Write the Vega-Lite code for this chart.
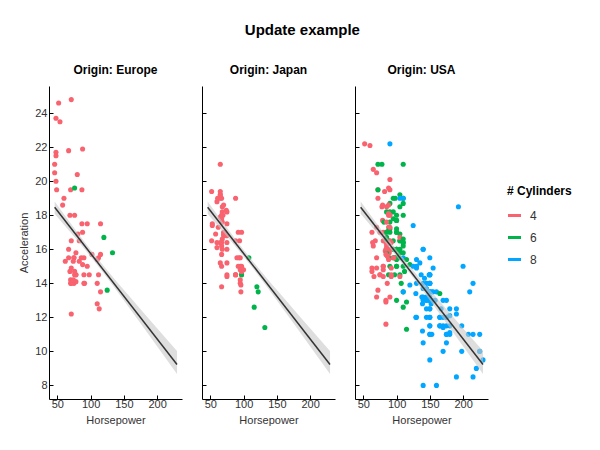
{
  "$schema": "https://vega.github.io/schema/vega-lite/v6.json",
  "padding": {"left": 18, "top": 23, "right": 5, "bottom": 5},
  "title": {"text": "Update example", "fontSize": 15, "fontWeight": "bold", "anchor": "middle", "color": "#000", "offset": 26, "dx": 7},
  "datasets": {
    "band": [
      {"hp": 46, "lo": 18.09, "hi": 18.81},
      {"hp": 60, "lo": 17.45, "hi": 18.06},
      {"hp": 80, "lo": 16.53, "hi": 17.00},
      {"hp": 100, "lo": 15.58, "hi": 15.98},
      {"hp": 120, "lo": 14.58, "hi": 15.00},
      {"hp": 140, "lo": 13.53, "hi": 14.07},
      {"hp": 160, "lo": 12.46, "hi": 13.16},
      {"hp": 180, "lo": 11.39, "hi": 12.26},
      {"hp": 200, "lo": 10.30, "hi": 11.36},
      {"hp": 230, "lo": 8.67, "hi": 10.02}
    ],
    "cars": [
      {"hp":130,"acc":12,"cyl":8,"origin":"USA"},
      {"hp":165,"acc":11.5,"cyl":8,"origin":"USA"},
      {"hp":150,"acc":11,"cyl":8,"origin":"USA"},
      {"hp":150,"acc":12,"cyl":8,"origin":"USA"},
      {"hp":140,"acc":10.5,"cyl":8,"origin":"USA"},
      {"hp":198,"acc":10,"cyl":8,"origin":"USA"},
      {"hp":220,"acc":9,"cyl":8,"origin":"USA"},
      {"hp":215,"acc":8.5,"cyl":8,"origin":"USA"},
      {"hp":225,"acc":10,"cyl":8,"origin":"USA"},
      {"hp":190,"acc":8.5,"cyl":8,"origin":"USA"},
      {"hp":170,"acc":10,"cyl":8,"origin":"USA"},
      {"hp":160,"acc":8,"cyl":8,"origin":"USA"},
      {"hp":150,"acc":9.5,"cyl":8,"origin":"USA"},
      {"hp":225,"acc":10,"cyl":8,"origin":"USA"},
      {"hp":95,"acc":15,"cyl":4,"origin":"Japan"},
      {"hp":95,"acc":15.5,"cyl":6,"origin":"USA"},
      {"hp":97,"acc":15.5,"cyl":6,"origin":"USA"},
      {"hp":85,"acc":16,"cyl":6,"origin":"USA"},
      {"hp":88,"acc":14.5,"cyl":4,"origin":"Japan"},
      {"hp":46,"acc":20.5,"cyl":4,"origin":"Europe"},
      {"hp":87,"acc":17.5,"cyl":4,"origin":"Europe"},
      {"hp":90,"acc":14.5,"cyl":4,"origin":"Europe"},
      {"hp":95,"acc":17.5,"cyl":4,"origin":"Europe"},
      {"hp":113,"acc":12.5,"cyl":4,"origin":"Europe"},
      {"hp":90,"acc":15,"cyl":6,"origin":"USA"},
      {"hp":215,"acc":14,"cyl":8,"origin":"USA"},
      {"hp":200,"acc":15,"cyl":8,"origin":"USA"},
      {"hp":210,"acc":13.5,"cyl":8,"origin":"USA"},
      {"hp":193,"acc":18.5,"cyl":8,"origin":"USA"},
      {"hp":88,"acc":14.5,"cyl":4,"origin":"Japan"},
      {"hp":90,"acc":15.5,"cyl":4,"origin":"USA"},
      {"hp":95,"acc":14,"cyl":4,"origin":"Japan"},
      {"hp":100,"acc":13,"cyl":6,"origin":"USA"},
      {"hp":105,"acc":15.5,"cyl":6,"origin":"USA"},
      {"hp":100,"acc":15.5,"cyl":6,"origin":"USA"},
      {"hp":88,"acc":15.5,"cyl":6,"origin":"USA"},
      {"hp":100,"acc":15.5,"cyl":6,"origin":"USA"},
      {"hp":165,"acc":12,"cyl":8,"origin":"USA"},
      {"hp":175,"acc":11.5,"cyl":8,"origin":"USA"},
      {"hp":153,"acc":13.5,"cyl":8,"origin":"USA"},
      {"hp":150,"acc":13,"cyl":8,"origin":"USA"},
      {"hp":180,"acc":11.5,"cyl":8,"origin":"USA"},
      {"hp":170,"acc":12,"cyl":8,"origin":"USA"},
      {"hp":175,"acc":12,"cyl":8,"origin":"USA"},
      {"hp":110,"acc":13.5,"cyl":6,"origin":"USA"},
      {"hp":72,"acc":19,"cyl":4,"origin":"USA"},
      {"hp":100,"acc":15,"cyl":6,"origin":"USA"},
      {"hp":88,"acc":14.5,"cyl":6,"origin":"USA"},
      {"hp":86,"acc":14,"cyl":4,"origin":"USA"},
      {"hp":90,"acc":14,"cyl":4,"origin":"Europe"},
      {"hp":70,"acc":19.5,"cyl":4,"origin":"Europe"},
      {"hp":76,"acc":14.5,"cyl":4,"origin":"Europe"},
      {"hp":65,"acc":19,"cyl":4,"origin":"Japan"},
      {"hp":69,"acc":18,"cyl":4,"origin":"Japan"},
      {"hp":60,"acc":19,"cyl":4,"origin":"Europe"},
      {"hp":70,"acc":20.5,"cyl":4,"origin":"USA"},
      {"hp":95,"acc":15.5,"cyl":4,"origin":"Japan"},
      {"hp":80,"acc":17,"cyl":4,"origin":"USA"},
      {"hp":54,"acc":23.5,"cyl":4,"origin":"Europe"},
      {"hp":90,"acc":19.5,"cyl":4,"origin":"USA"},
      {"hp":86,"acc":16.5,"cyl":4,"origin":"USA"},
      {"hp":165,"acc":12,"cyl":8,"origin":"USA"},
      {"hp":175,"acc":12,"cyl":8,"origin":"USA"},
      {"hp":150,"acc":13.5,"cyl":8,"origin":"USA"},
      {"hp":153,"acc":13,"cyl":8,"origin":"USA"},
      {"hp":150,"acc":11.5,"cyl":8,"origin":"USA"},
      {"hp":208,"acc":11,"cyl":8,"origin":"USA"},
      {"hp":155,"acc":13.5,"cyl":8,"origin":"USA"},
      {"hp":160,"acc":13.5,"cyl":8,"origin":"USA"},
      {"hp":190,"acc":12.5,"cyl":8,"origin":"USA"},
      {"hp":150,"acc":12.5,"cyl":8,"origin":"USA"},
      {"hp":130,"acc":14,"cyl":8,"origin":"USA"},
      {"hp":140,"acc":16,"cyl":8,"origin":"USA"},
      {"hp":150,"acc":14,"cyl":8,"origin":"USA"},
      {"hp":112,"acc":14.5,"cyl":4,"origin":"Europe"},
      {"hp":76,"acc":18,"cyl":4,"origin":"Europe"},
      {"hp":87,"acc":19.5,"cyl":4,"origin":"Europe"},
      {"hp":69,"acc":18,"cyl":4,"origin":"Europe"},
      {"hp":86,"acc":16,"cyl":4,"origin":"USA"},
      {"hp":92,"acc":17,"cyl":4,"origin":"Japan"},
      {"hp":97,"acc":14.5,"cyl":4,"origin":"Japan"},
      {"hp":80,"acc":15,"cyl":4,"origin":"USA"},
      {"hp":88,"acc":16.5,"cyl":4,"origin":"Japan"},
      {"hp":175,"acc":13,"cyl":8,"origin":"USA"},
      {"hp":150,"acc":11.5,"cyl":8,"origin":"USA"},
      {"hp":145,"acc":13,"cyl":8,"origin":"USA"},
      {"hp":137,"acc":14.5,"cyl":8,"origin":"USA"},
      {"hp":150,"acc":12.5,"cyl":8,"origin":"USA"},
      {"hp":198,"acc":11.5,"cyl":8,"origin":"USA"},
      {"hp":150,"acc":12,"cyl":8,"origin":"USA"},
      {"hp":158,"acc":13,"cyl":8,"origin":"USA"},
      {"hp":150,"acc":14.5,"cyl":8,"origin":"USA"},
      {"hp":215,"acc":11,"cyl":8,"origin":"USA"},
      {"hp":225,"acc":11,"cyl":8,"origin":"USA"},
      {"hp":175,"acc":11,"cyl":8,"origin":"USA"},
      {"hp":105,"acc":16.5,"cyl":6,"origin":"USA"},
      {"hp":100,"acc":18,"cyl":6,"origin":"USA"},
      {"hp":100,"acc":16,"cyl":6,"origin":"USA"},
      {"hp":88,"acc":16.5,"cyl":6,"origin":"USA"},
      {"hp":95,"acc":16,"cyl":6,"origin":"USA"},
      {"hp":46,"acc":21,"cyl":4,"origin":"Europe"},
      {"hp":150,"acc":14,"cyl":8,"origin":"USA"},
      {"hp":167,"acc":12.5,"cyl":8,"origin":"USA"},
      {"hp":170,"acc":13,"cyl":8,"origin":"USA"},
      {"hp":180,"acc":12.5,"cyl":8,"origin":"USA"},
      {"hp":100,"acc":15,"cyl":6,"origin":"USA"},
      {"hp":88,"acc":19,"cyl":4,"origin":"Japan"},
      {"hp":72,"acc":19.5,"cyl":4,"origin":"USA"},
      {"hp":94,"acc":16.5,"cyl":4,"origin":"Japan"},
      {"hp":85,"acc":18.5,"cyl":4,"origin":"USA"},
      {"hp":107,"acc":14,"cyl":6,"origin":"USA"},
      {"hp":90,"acc":15.5,"cyl":4,"origin":"Europe"},
      {"hp":145,"acc":13,"cyl":8,"origin":"USA"},
      {"hp":230,"acc":9.5,"cyl":8,"origin":"USA"},
      {"hp":49,"acc":19.5,"cyl":4,"origin":"Europe"},
      {"hp":75,"acc":15.5,"cyl":4,"origin":"Europe"},
      {"hp":91,"acc":14,"cyl":4,"origin":"Europe"},
      {"hp":112,"acc":15.5,"cyl":4,"origin":"Europe"},
      {"hp":150,"acc":11,"cyl":8,"origin":"USA"},
      {"hp":110,"acc":14,"cyl":4,"origin":"Europe"},
      {"hp":122,"acc":13.5,"cyl":6,"origin":"Japan"},
      {"hp":180,"acc":11,"cyl":8,"origin":"USA"},
      {"hp":95,"acc":16.5,"cyl":6,"origin":"USA"},
      {"hp":100,"acc":16,"cyl":6,"origin":"USA"},
      {"hp":100,"acc":17,"cyl":6,"origin":"USA"},
      {"hp":67,"acc":19,"cyl":4,"origin":"Japan"},
      {"hp":80,"acc":16.5,"cyl":4,"origin":"USA"},
      {"hp":65,"acc":21,"cyl":4,"origin":"Japan"},
      {"hp":75,"acc":17,"cyl":4,"origin":"USA"},
      {"hp":100,"acc":17,"cyl":6,"origin":"USA"},
      {"hp":110,"acc":18,"cyl":6,"origin":"USA"},
      {"hp":105,"acc":16.5,"cyl":6,"origin":"USA"},
      {"hp":140,"acc":14,"cyl":8,"origin":"USA"},
      {"hp":150,"acc":14.5,"cyl":8,"origin":"USA"},
      {"hp":150,"acc":13.5,"cyl":8,"origin":"USA"},
      {"hp":140,"acc":16,"cyl":8,"origin":"USA"},
      {"hp":150,"acc":15.5,"cyl":8,"origin":"USA"},
      {"hp":83,"acc":16.5,"cyl":4,"origin":"Europe"},
      {"hp":67,"acc":15.5,"cyl":4,"origin":"Europe"},
      {"hp":78,"acc":14.5,"cyl":4,"origin":"Europe"},
      {"hp":52,"acc":16.5,"cyl":4,"origin":"Japan"},
      {"hp":61,"acc":19,"cyl":4,"origin":"Japan"},
      {"hp":75,"acc":14.5,"cyl":4,"origin":"USA"},
      {"hp":75,"acc":15.5,"cyl":4,"origin":"Europe"},
      {"hp":75,"acc":14,"cyl":4,"origin":"Europe"},
      {"hp":97,"acc":15,"cyl":4,"origin":"Japan"},
      {"hp":93,"acc":15.5,"cyl":4,"origin":"Japan"},
      {"hp":67,"acc":16,"cyl":4,"origin":"Europe"},
      {"hp":95,"acc":16,"cyl":6,"origin":"USA"},
      {"hp":105,"acc":16,"cyl":6,"origin":"USA"},
      {"hp":72,"acc":21,"cyl":6,"origin":"USA"},
      {"hp":72,"acc":19.5,"cyl":6,"origin":"USA"},
      {"hp":170,"acc":11.5,"cyl":8,"origin":"USA"},
      {"hp":145,"acc":14,"cyl":8,"origin":"USA"},
      {"hp":150,"acc":14.5,"cyl":8,"origin":"USA"},
      {"hp":148,"acc":13.5,"cyl":8,"origin":"USA"},
      {"hp":110,"acc":21,"cyl":6,"origin":"USA"},
      {"hp":105,"acc":18.5,"cyl":6,"origin":"USA"},
      {"hp":110,"acc":19,"cyl":6,"origin":"USA"},
      {"hp":95,"acc":19,"cyl":6,"origin":"USA"},
      {"hp":110,"acc":15,"cyl":6,"origin":"USA"},
      {"hp":110,"acc":13.5,"cyl":8,"origin":"USA"},
      {"hp":129,"acc":12,"cyl":8,"origin":"USA"},
      {"hp":75,"acc":16,"cyl":4,"origin":"Japan"},
      {"hp":83,"acc":17,"cyl":4,"origin":"USA"},
      {"hp":100,"acc":16,"cyl":6,"origin":"USA"},
      {"hp":78,"acc":18.5,"cyl":4,"origin":"USA"},
      {"hp":96,"acc":13.5,"cyl":4,"origin":"Japan"},
      {"hp":71,"acc":16.5,"cyl":4,"origin":"Europe"},
      {"hp":97,"acc":17,"cyl":4,"origin":"Japan"},
      {"hp":97,"acc":14.5,"cyl":6,"origin":"USA"},
      {"hp":70,"acc":14,"cyl":4,"origin":"Europe"},
      {"hp":90,"acc":17,"cyl":6,"origin":"USA"},
      {"hp":95,"acc":15,"cyl":4,"origin":"Europe"},
      {"hp":88,"acc":17,"cyl":4,"origin":"Europe"},
      {"hp":98,"acc":14.5,"cyl":4,"origin":"Europe"},
      {"hp":115,"acc":13.5,"cyl":4,"origin":"Europe"},
      {"hp":53,"acc":17.5,"cyl":4,"origin":"Japan"},
      {"hp":86,"acc":15.5,"cyl":4,"origin":"Europe"},
      {"hp":81,"acc":16.9,"cyl":4,"origin":"Europe"},
      {"hp":92,"acc":14.9,"cyl":4,"origin":"USA"},
      {"hp":79,"acc":17.7,"cyl":4,"origin":"USA"},
      {"hp":83,"acc":15.3,"cyl":4,"origin":"Europe"},
      {"hp":140,"acc":13,"cyl":8,"origin":"USA"},
      {"hp":150,"acc":13,"cyl":8,"origin":"USA"},
      {"hp":120,"acc":13.9,"cyl":8,"origin":"USA"},
      {"hp":152,"acc":12.8,"cyl":8,"origin":"USA"},
      {"hp":100,"acc":15.4,"cyl":6,"origin":"USA"},
      {"hp":105,"acc":14.5,"cyl":6,"origin":"USA"},
      {"hp":81,"acc":17.6,"cyl":6,"origin":"USA"},
      {"hp":90,"acc":17.6,"cyl":6,"origin":"USA"},
      {"hp":52,"acc":22.2,"cyl":4,"origin":"USA"},
      {"hp":60,"acc":22.1,"cyl":4,"origin":"USA"},
      {"hp":70,"acc":14.2,"cyl":4,"origin":"Europe"},
      {"hp":53,"acc":17.4,"cyl":4,"origin":"Japan"},
      {"hp":100,"acc":17.7,"cyl":6,"origin":"USA"},
      {"hp":78,"acc":21,"cyl":6,"origin":"USA"},
      {"hp":110,"acc":16.2,"cyl":6,"origin":"USA"},
      {"hp":95,"acc":17.8,"cyl":6,"origin":"USA"},
      {"hp":71,"acc":12.2,"cyl":4,"origin":"Europe"},
      {"hp":70,"acc":17,"cyl":4,"origin":"Japan"},
      {"hp":75,"acc":16.4,"cyl":4,"origin":"Japan"},
      {"hp":72,"acc":13.6,"cyl":4,"origin":"USA"},
      {"hp":102,"acc":15.7,"cyl":4,"origin":"Europe"},
      {"hp":150,"acc":13.2,"cyl":8,"origin":"USA"},
      {"hp":88,"acc":21.9,"cyl":4,"origin":"Europe"},
      {"hp":108,"acc":15.5,"cyl":6,"origin":"Japan"},
      {"hp":120,"acc":16.7,"cyl":6,"origin":"Europe"},
      {"hp":180,"acc":12.1,"cyl":8,"origin":"USA"},
      {"hp":145,"acc":12,"cyl":8,"origin":"USA"},
      {"hp":130,"acc":15,"cyl":8,"origin":"USA"},
      {"hp":150,"acc":14,"cyl":8,"origin":"USA"},
      {"hp":68,"acc":18.5,"cyl":4,"origin":"Japan"},
      {"hp":80,"acc":14.8,"cyl":4,"origin":"USA"},
      {"hp":58,"acc":18.6,"cyl":4,"origin":"Europe"},
      {"hp":96,"acc":15.5,"cyl":4,"origin":"USA"},
      {"hp":70,"acc":16.8,"cyl":4,"origin":"Japan"},
      {"hp":145,"acc":12.5,"cyl":8,"origin":"USA"},
      {"hp":110,"acc":19,"cyl":8,"origin":"USA"},
      {"hp":145,"acc":13.7,"cyl":8,"origin":"USA"},
      {"hp":130,"acc":14.9,"cyl":8,"origin":"USA"},
      {"hp":110,"acc":16.4,"cyl":6,"origin":"USA"},
      {"hp":105,"acc":16.9,"cyl":6,"origin":"USA"},
      {"hp":100,"acc":17.7,"cyl":6,"origin":"USA"},
      {"hp":98,"acc":19,"cyl":6,"origin":"USA"},
      {"hp":180,"acc":11.1,"cyl":8,"origin":"USA"},
      {"hp":170,"acc":11.4,"cyl":8,"origin":"USA"},
      {"hp":190,"acc":12.2,"cyl":8,"origin":"USA"},
      {"hp":149,"acc":14.5,"cyl":8,"origin":"USA"},
      {"hp":78,"acc":14.5,"cyl":4,"origin":"Europe"},
      {"hp":88,"acc":16,"cyl":4,"origin":"USA"},
      {"hp":75,"acc":18.2,"cyl":4,"origin":"Japan"},
      {"hp":89,"acc":15.8,"cyl":4,"origin":"USA"},
      {"hp":63,"acc":17,"cyl":4,"origin":"USA"},
      {"hp":83,"acc":15.9,"cyl":4,"origin":"USA"},
      {"hp":67,"acc":16.4,"cyl":4,"origin":"Japan"},
      {"hp":78,"acc":14.1,"cyl":4,"origin":"Europe"},
      {"hp":97,"acc":14.5,"cyl":6,"origin":"Japan"},
      {"hp":110,"acc":12.8,"cyl":4,"origin":"Europe"},
      {"hp":48,"acc":21.5,"cyl":4,"origin":"Europe"},
      {"hp":66,"acc":14.4,"cyl":4,"origin":"USA"},
      {"hp":52,"acc":19.4,"cyl":4,"origin":"Japan"},
      {"hp":70,"acc":18.6,"cyl":4,"origin":"Japan"},
      {"hp":60,"acc":16.4,"cyl":4,"origin":"Japan"},
      {"hp":110,"acc":15.5,"cyl":8,"origin":"USA"},
      {"hp":140,"acc":13.2,"cyl":8,"origin":"USA"},
      {"hp":139,"acc":12.8,"cyl":8,"origin":"USA"},
      {"hp":105,"acc":19.2,"cyl":6,"origin":"USA"},
      {"hp":95,"acc":18.2,"cyl":6,"origin":"USA"},
      {"hp":85,"acc":15.8,"cyl":6,"origin":"USA"},
      {"hp":88,"acc":15.4,"cyl":4,"origin":"USA"},
      {"hp":100,"acc":17.2,"cyl":6,"origin":"USA"},
      {"hp":90,"acc":17.2,"cyl":6,"origin":"USA"},
      {"hp":105,"acc":15.8,"cyl":6,"origin":"USA"},
      {"hp":85,"acc":16.7,"cyl":6,"origin":"USA"},
      {"hp":110,"acc":18.7,"cyl":6,"origin":"USA"},
      {"hp":120,"acc":15.1,"cyl":6,"origin":"USA"},
      {"hp":145,"acc":13.2,"cyl":8,"origin":"USA"},
      {"hp":165,"acc":13.4,"cyl":6,"origin":"USA"},
      {"hp":139,"acc":11.2,"cyl":8,"origin":"USA"},
      {"hp":140,"acc":13.7,"cyl":8,"origin":"USA"},
      {"hp":68,"acc":16.5,"cyl":4,"origin":"USA"},
      {"hp":95,"acc":14.2,"cyl":4,"origin":"Japan"},
      {"hp":97,"acc":14.7,"cyl":4,"origin":"Japan"},
      {"hp":75,"acc":14.5,"cyl":4,"origin":"USA"},
      {"hp":95,"acc":14.8,"cyl":4,"origin":"Japan"},
      {"hp":105,"acc":16.7,"cyl":4,"origin":"USA"},
      {"hp":85,"acc":17.6,"cyl":4,"origin":"USA"},
      {"hp":97,"acc":14.9,"cyl":4,"origin":"Japan"},
      {"hp":125,"acc":13.6,"cyl":6,"origin":"Europe"},
      {"hp":115,"acc":15.7,"cyl":4,"origin":"Europe"},
      {"hp":133,"acc":15.8,"cyl":6,"origin":"Europe"},
      {"hp":71,"acc":14.9,"cyl":4,"origin":"Europe"},
      {"hp":68,"acc":16.6,"cyl":4,"origin":"Japan"},
      {"hp":115,"acc":15.4,"cyl":6,"origin":"USA"},
      {"hp":85,"acc":18.2,"cyl":6,"origin":"USA"},
      {"hp":88,"acc":17.3,"cyl":4,"origin":"USA"},
      {"hp":90,"acc":18.2,"cyl":6,"origin":"USA"},
      {"hp":110,"acc":16.6,"cyl":6,"origin":"USA"},
      {"hp":130,"acc":15.4,"cyl":8,"origin":"USA"},
      {"hp":129,"acc":13.4,"cyl":8,"origin":"USA"},
      {"hp":138,"acc":13.2,"cyl":8,"origin":"USA"},
      {"hp":135,"acc":15.2,"cyl":8,"origin":"USA"},
      {"hp":155,"acc":14.9,"cyl":8,"origin":"USA"},
      {"hp":142,"acc":14.3,"cyl":8,"origin":"USA"},
      {"hp":125,"acc":15,"cyl":8,"origin":"USA"},
      {"hp":150,"acc":13,"cyl":8,"origin":"USA"},
      {"hp":71,"acc":14,"cyl":4,"origin":"Europe"},
      {"hp":65,"acc":15.2,"cyl":4,"origin":"Japan"},
      {"hp":80,"acc":14.4,"cyl":4,"origin":"USA"},
      {"hp":80,"acc":15,"cyl":4,"origin":"USA"},
      {"hp":125,"acc":17.4,"cyl":8,"origin":"USA"},
      {"hp":71,"acc":24.8,"cyl":4,"origin":"Europe"},
      {"hp":90,"acc":22.2,"cyl":8,"origin":"USA"},
      {"hp":70,"acc":13.2,"cyl":4,"origin":"USA"},
      {"hp":70,"acc":14.9,"cyl":4,"origin":"USA"},
      {"hp":65,"acc":19.2,"cyl":4,"origin":"Japan"},
      {"hp":69,"acc":14.7,"cyl":4,"origin":"Europe"},
      {"hp":90,"acc":16,"cyl":4,"origin":"USA"},
      {"hp":115,"acc":11.3,"cyl":6,"origin":"USA"},
      {"hp":115,"acc":12.9,"cyl":6,"origin":"USA"},
      {"hp":90,"acc":13.2,"cyl":4,"origin":"USA"},
      {"hp":76,"acc":14.7,"cyl":4,"origin":"Europe"},
      {"hp":60,"acc":18.8,"cyl":4,"origin":"Japan"},
      {"hp":70,"acc":15.5,"cyl":4,"origin":"USA"},
      {"hp":65,"acc":16.4,"cyl":4,"origin":"Japan"},
      {"hp":90,"acc":16.5,"cyl":4,"origin":"USA"},
      {"hp":88,"acc":18.1,"cyl":4,"origin":"USA"},
      {"hp":90,"acc":20.1,"cyl":4,"origin":"USA"},
      {"hp":90,"acc":18.7,"cyl":6,"origin":"USA"},
      {"hp":78,"acc":15.8,"cyl":4,"origin":"Europe"},
      {"hp":90,"acc":15.5,"cyl":4,"origin":"Japan"},
      {"hp":75,"acc":17.5,"cyl":4,"origin":"Japan"},
      {"hp":92,"acc":15,"cyl":4,"origin":"Japan"},
      {"hp":75,"acc":15.2,"cyl":4,"origin":"Japan"},
      {"hp":65,"acc":17.9,"cyl":4,"origin":"Japan"},
      {"hp":105,"acc":14.4,"cyl":4,"origin":"USA"},
      {"hp":65,"acc":19.2,"cyl":4,"origin":"Japan"},
      {"hp":48,"acc":21.7,"cyl":4,"origin":"Europe"},
      {"hp":48,"acc":23.7,"cyl":4,"origin":"Europe"},
      {"hp":67,"acc":21.8,"cyl":4,"origin":"Europe"},
      {"hp":67,"acc":13.8,"cyl":4,"origin":"Japan"},
      {"hp":67,"acc":18,"cyl":4,"origin":"Japan"},
      {"hp":62,"acc":15.3,"cyl":4,"origin":"Europe"},
      {"hp":132,"acc":11.4,"cyl":6,"origin":"Japan"},
      {"hp":88,"acc":15.1,"cyl":4,"origin":"Europe"},
      {"hp":72,"acc":17,"cyl":4,"origin":"Japan"},
      {"hp":84,"acc":15.7,"cyl":4,"origin":"USA"},
      {"hp":84,"acc":16.4,"cyl":4,"origin":"USA"},
      {"hp":92,"acc":14.4,"cyl":4,"origin":"USA"},
      {"hp":110,"acc":12.6,"cyl":6,"origin":"USA"},
      {"hp":84,"acc":12.9,"cyl":4,"origin":"USA"},
      {"hp":58,"acc":16.9,"cyl":4,"origin":"Japan"},
      {"hp":64,"acc":16.4,"cyl":4,"origin":"USA"},
      {"hp":60,"acc":16.1,"cyl":4,"origin":"Japan"},
      {"hp":67,"acc":17.8,"cyl":4,"origin":"Japan"},
      {"hp":65,"acc":19.4,"cyl":4,"origin":"Japan"},
      {"hp":62,"acc":17.3,"cyl":4,"origin":"Japan"},
      {"hp":68,"acc":16,"cyl":4,"origin":"Japan"},
      {"hp":63,"acc":14.9,"cyl":4,"origin":"USA"},
      {"hp":65,"acc":16.2,"cyl":4,"origin":"USA"},
      {"hp":65,"acc":20.7,"cyl":4,"origin":"USA"},
      {"hp":74,"acc":14.2,"cyl":4,"origin":"Europe"},
      {"hp":75,"acc":14.4,"cyl":4,"origin":"Japan"},
      {"hp":75,"acc":16.8,"cyl":4,"origin":"Japan"},
      {"hp":100,"acc":14.8,"cyl":4,"origin":"Japan"},
      {"hp":74,"acc":18.3,"cyl":4,"origin":"Japan"},
      {"hp":80,"acc":20.4,"cyl":4,"origin":"Europe"},
      {"hp":76,"acc":19.6,"cyl":6,"origin":"Europe"},
      {"hp":116,"acc":12.6,"cyl":6,"origin":"Japan"},
      {"hp":120,"acc":13.8,"cyl":6,"origin":"Japan"},
      {"hp":110,"acc":15.8,"cyl":6,"origin":"USA"},
      {"hp":105,"acc":19,"cyl":8,"origin":"USA"},
      {"hp":88,"acc":17.1,"cyl":6,"origin":"USA"},
      {"hp":85,"acc":16.6,"cyl":6,"origin":"USA"},
      {"hp":88,"acc":19.6,"cyl":4,"origin":"USA"},
      {"hp":88,"acc":18.6,"cyl":4,"origin":"USA"},
      {"hp":88,"acc":18,"cyl":4,"origin":"USA"},
      {"hp":85,"acc":16.2,"cyl":4,"origin":"USA"},
      {"hp":84,"acc":16,"cyl":4,"origin":"USA"},
      {"hp":90,"acc":18,"cyl":4,"origin":"USA"},
      {"hp":92,"acc":16.4,"cyl":4,"origin":"USA"},
      {"hp":74,"acc":15.3,"cyl":4,"origin":"Europe"},
      {"hp":68,"acc":18.2,"cyl":4,"origin":"Japan"},
      {"hp":68,"acc":17.6,"cyl":4,"origin":"Japan"},
      {"hp":63,"acc":14.7,"cyl":4,"origin":"USA"},
      {"hp":70,"acc":17.3,"cyl":4,"origin":"USA"},
      {"hp":88,"acc":14.5,"cyl":4,"origin":"Japan"},
      {"hp":75,"acc":14.5,"cyl":4,"origin":"Japan"},
      {"hp":70,"acc":16.9,"cyl":4,"origin":"Japan"},
      {"hp":67,"acc":15,"cyl":4,"origin":"Japan"},
      {"hp":67,"acc":15.7,"cyl":4,"origin":"Japan"},
      {"hp":67,"acc":16.2,"cyl":4,"origin":"Japan"},
      {"hp":110,"acc":16.4,"cyl":6,"origin":"USA"},
      {"hp":85,"acc":17,"cyl":6,"origin":"USA"},
      {"hp":92,"acc":14.5,"cyl":4,"origin":"USA"},
      {"hp":112,"acc":14.7,"cyl":6,"origin":"USA"},
      {"hp":96,"acc":13.9,"cyl":4,"origin":"Japan"},
      {"hp":84,"acc":13,"cyl":4,"origin":"USA"},
      {"hp":90,"acc":17.3,"cyl":4,"origin":"USA"},
      {"hp":86,"acc":15.6,"cyl":4,"origin":"USA"},
      {"hp":52,"acc":24.6,"cyl":4,"origin":"Europe"},
      {"hp":84,"acc":11.6,"cyl":4,"origin":"USA"},
      {"hp":79,"acc":18.6,"cyl":4,"origin":"USA"},
      {"hp":82,"acc":19.4,"cyl":4,"origin":"USA"},
      {"hp":115,"acc":17.5,"cyl":4,"origin":"Europe"},
      {"hp":165,"acc":11.5,"cyl":8,"origin":"USA"},
      {"hp":153,"acc":11,"cyl":8,"origin":"USA"},
      {"hp":175,"acc":10.5,"cyl":8,"origin":"USA"},
      {"hp":175,"acc":11,"cyl":8,"origin":"USA"},
      {"hp":140,"acc":8,"cyl":8,"origin":"USA"},
      {"hp":48,"acc":20,"cyl":4,"origin":"Europe"},
      {"hp":110,"acc":15.4,"cyl":4,"origin":"Europe"}
    ]
  },
  "spacing": 19,
  "hconcat": [
    {
      "width": 133, "height": 313,
      "title": {"text": "Origin: Europe"},
      "layer": [
        {
          "data": {"name": "cars"},
          "transform": [{"filter": "datum.origin === 'Europe'"}],
          "mark": {"type": "circle", "size": 26, "opacity": 1},
          "encoding": {
            "x": {"field": "hp", "type": "quantitative", "title": "Horsepower", "scale": {"domain": [37.5, 237.5], "nice": false, "zero": false}, "axis": {"values": [50, 100, 150, 200], "labelPadding": 3}},
            "y": {"field": "acc", "type": "quantitative", "title": "Acceleration", "scale": {"domain": [7.2, 25.6], "nice": false, "zero": false}, "axis": {"values": [8, 10, 12, 14, 16, 18, 20, 22, 24], "labelOverlap": false}},
            "color": {"field": "cyl", "type": "nominal", "title": "# Cylinders", "scale": {"domain": [4, 6, 8], "range": ["#f8636f", "#00b34a", "#00a6ff"]},
              "legend": {"orient": "none", "legendX": 458, "legendY": 100, "symbolType": "M-1,-0.23H1V0.23H-1Z", "symbolSize": 170, "symbolOpacity": 1, "rowPadding": 8, "labelOffset": 8}}
          }
        },
        {
          "data": {"name": "band"},
          "mark": {"type": "area", "color": "#c8c8c8", "opacity": 0.6},
          "encoding": {
            "x": {"field": "hp", "type": "quantitative", "title": "Horsepower", "scale": {"domain": [37.5, 237.5], "nice": false, "zero": false}, "axis": {"values": [50, 100, 150, 200], "labelPadding": 3}},
            "y": {"field": "lo", "type": "quantitative", "title": "Acceleration", "scale": {"domain": [7.2, 25.6], "nice": false, "zero": false}, "axis": {"values": [8, 10, 12, 14, 16, 18, 20, 22, 24], "labelOverlap": false}},
            "y2": {"field": "hi"}
          }
        },
        {
          "data": {"name": "cars"},
          "transform": [{"regression": "acc", "on": "hp"}],
          "mark": {"type": "line", "color": "#333333", "strokeWidth": 1.5},
          "encoding": {
            "x": {"field": "hp", "type": "quantitative", "title": "Horsepower", "scale": {"domain": [37.5, 237.5], "nice": false, "zero": false}, "axis": {"values": [50, 100, 150, 200], "labelPadding": 3}},
            "y": {"field": "acc", "type": "quantitative", "title": "Acceleration", "scale": {"domain": [7.2, 25.6], "nice": false, "zero": false}, "axis": {"values": [8, 10, 12, 14, 16, 18, 20, 22, 24], "labelOverlap": false}}
          }
        }
      ]
    },
    {
      "width": 133, "height": 313,
      "title": {"text": "Origin: Japan"},
      "layer": [
        {
          "data": {"name": "cars"},
          "transform": [{"filter": "datum.origin === 'Japan'"}],
          "mark": {"type": "circle", "size": 26, "opacity": 1},
          "encoding": {
            "x": {"field": "hp", "type": "quantitative", "title": "Horsepower", "scale": {"domain": [37.5, 237.5], "nice": false, "zero": false}, "axis": {"values": [50, 100, 150, 200], "labelPadding": 3}},
            "y": {"field": "acc", "type": "quantitative", "title": null, "scale": {"domain": [7.2, 25.6], "nice": false, "zero": false}, "axis": {"values": [8, 10, 12, 14, 16, 18, 20, 22, 24], "labels": false, "minExtent": 0}},
            "color": {"field": "cyl", "type": "nominal", "title": "# Cylinders", "scale": {"domain": [4, 6, 8], "range": ["#f8636f", "#00b34a", "#00a6ff"]}}
          }
        },
        {
          "data": {"name": "band"},
          "mark": {"type": "area", "color": "#c8c8c8", "opacity": 0.6},
          "encoding": {
            "x": {"field": "hp", "type": "quantitative", "title": "Horsepower", "scale": {"domain": [37.5, 237.5], "nice": false, "zero": false}, "axis": {"values": [50, 100, 150, 200], "labelPadding": 3}},
            "y": {"field": "lo", "type": "quantitative", "title": null, "scale": {"domain": [7.2, 25.6], "nice": false, "zero": false}, "axis": {"values": [8, 10, 12, 14, 16, 18, 20, 22, 24], "labels": false, "minExtent": 0}},
            "y2": {"field": "hi"}
          }
        },
        {
          "data": {"name": "cars"},
          "transform": [{"regression": "acc", "on": "hp"}],
          "mark": {"type": "line", "color": "#333333", "strokeWidth": 1.5},
          "encoding": {
            "x": {"field": "hp", "type": "quantitative", "title": "Horsepower", "scale": {"domain": [37.5, 237.5], "nice": false, "zero": false}, "axis": {"values": [50, 100, 150, 200], "labelPadding": 3}},
            "y": {"field": "acc", "type": "quantitative", "title": null, "scale": {"domain": [7.2, 25.6], "nice": false, "zero": false}, "axis": {"values": [8, 10, 12, 14, 16, 18, 20, 22, 24], "labels": false, "minExtent": 0}}
          }
        }
      ]
    },
    {
      "width": 133, "height": 313,
      "title": {"text": "Origin: USA"},
      "layer": [
        {
          "data": {"name": "cars"},
          "transform": [{"filter": "datum.origin === 'USA'"}],
          "mark": {"type": "circle", "size": 26, "opacity": 1},
          "encoding": {
            "x": {"field": "hp", "type": "quantitative", "title": "Horsepower", "scale": {"domain": [37.5, 237.5], "nice": false, "zero": false}, "axis": {"values": [50, 100, 150, 200], "labelPadding": 3}},
            "y": {"field": "acc", "type": "quantitative", "title": null, "scale": {"domain": [7.2, 25.6], "nice": false, "zero": false}, "axis": {"values": [8, 10, 12, 14, 16, 18, 20, 22, 24], "labels": false, "minExtent": 0}},
            "color": {"field": "cyl", "type": "nominal", "title": "# Cylinders", "scale": {"domain": [4, 6, 8], "range": ["#f8636f", "#00b34a", "#00a6ff"]}}
          }
        },
        {
          "data": {"name": "band"},
          "mark": {"type": "area", "color": "#c8c8c8", "opacity": 0.6},
          "encoding": {
            "x": {"field": "hp", "type": "quantitative", "title": "Horsepower", "scale": {"domain": [37.5, 237.5], "nice": false, "zero": false}, "axis": {"values": [50, 100, 150, 200], "labelPadding": 3}},
            "y": {"field": "lo", "type": "quantitative", "title": null, "scale": {"domain": [7.2, 25.6], "nice": false, "zero": false}, "axis": {"values": [8, 10, 12, 14, 16, 18, 20, 22, 24], "labels": false, "minExtent": 0}},
            "y2": {"field": "hi"}
          }
        },
        {
          "data": {"name": "cars"},
          "transform": [{"regression": "acc", "on": "hp"}],
          "mark": {"type": "line", "color": "#333333", "strokeWidth": 1.5},
          "encoding": {
            "x": {"field": "hp", "type": "quantitative", "title": "Horsepower", "scale": {"domain": [37.5, 237.5], "nice": false, "zero": false}, "axis": {"values": [50, 100, 150, 200], "labelPadding": 3}},
            "y": {"field": "acc", "type": "quantitative", "title": null, "scale": {"domain": [7.2, 25.6], "nice": false, "zero": false}, "axis": {"values": [8, 10, 12, 14, 16, 18, 20, 22, 24], "labels": false, "minExtent": 0}}
          }
        }
      ]
    }
  ],
  "config": {
    "font": "Liberation Sans",
    "view": {"stroke": null},
    "axis": {"grid": false, "domainColor": "#000000", "domainWidth": 1, "tickColor": "#000000", "tickSize": -4, "labelPadding": 6, "labelColor": "#333333", "labelFontSize": 11, "titleColor": "#333333", "titleFontSize": 11, "titleFontWeight": "normal", "titlePadding": 5},
    "title": {"fontSize": 12, "fontWeight": "bold", "color": "#000000", "offset": 9},
    "legend": {"titleFontSize": 12, "titleFontWeight": "bold", "titleColor": "#000000", "labelFontSize": 12, "labelColor": "#333333", "titlePadding": 10}
  }
}
